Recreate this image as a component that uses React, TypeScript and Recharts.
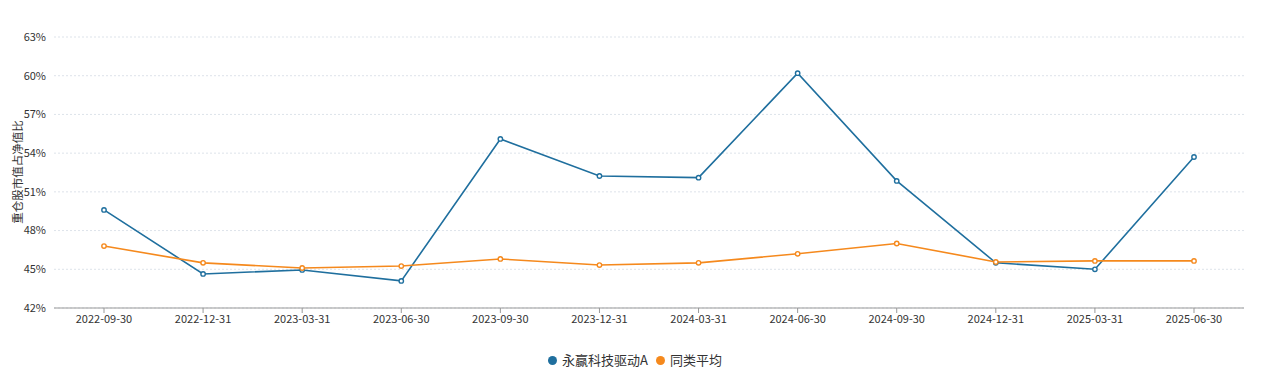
import React from 'react';
import { LineChart, Line, XAxis, YAxis, CartesianGrid, Legend } from 'recharts';

const categories = [
  '2022-09-30', '2022-12-31', '2023-03-31', '2023-06-30', '2023-09-30', '2023-12-31',
  '2024-03-31', '2024-06-30', '2024-09-30', '2024-12-31', '2025-03-31', '2025-06-30',
];
const fundValues = [49.6, 44.64, 44.95, 44.1, 55.1, 52.23, 52.1, 60.2, 51.85, 45.5, 45.0, 53.7];
const peerValues = [46.8, 45.5, 45.1, 45.25, 45.8, 45.33, 45.5, 46.2, 47.0, 45.57, 45.65, 45.65];
const yTicks = [42, 45, 48, 51, 54, 57, 60, 63];

const fundName = '永赢科技驱动A';
const peerName = '同类平均';
const fundColor = '#1f6f9e';
const peerColor = '#f5891d';
const font = '"Noto Sans CJK SC", "Noto Sans", sans-serif';

const data = categories.map((date, i) => ({
  date,
  fund: fundValues[i],
  peer: peerValues[i],
}));

const CustomLegend = () => (
  <div style={{ display: 'flex', justifyContent: 'center', paddingTop: 14, paddingLeft: 26, fontFamily: font, fontSize: 13, color: '#333', lineHeight: '16px' }}>
    {[{ name: fundName, color: fundColor }, { name: peerName, color: peerColor }].map((item) => (
      <div key={item.name} style={{ display: 'flex', alignItems: 'center', margin: '0 4px' }}>
        <span style={{ width: 9, height: 9, borderRadius: '50%', backgroundColor: item.color, marginRight: 5, display: 'inline-block' }} />
        <span>{item.name}</span>
      </div>
    ))}
  </div>
);

const YLabel = () => (
  <text
    x={17}
    y={172}
    transform="rotate(-90 17 172)"
    textAnchor="middle"
    dominantBaseline="central"
    fontSize={11.5}
    fontFamily={font}
    fill="#333"
  >
    重仓股市值占净值比
  </text>
);

export default function App() {
  return (
    <div style={{ position: 'absolute', left: 0, top: 0, background: '#fff' }}>
      <LineChart width={1270} height={372} data={data} margin={{ top: 37, right: 26, left: 0, bottom: 0 }}>
        <CartesianGrid vertical={false} stroke="#dde3ea" strokeDasharray="2 2" />
        <XAxis
          dataKey="date"
          height={30}
          interval={0}
          padding={{ left: 50, right: 50 }}
          stroke="#999"
          tickSize={5}
          tick={{ fill: '#333', fontSize: 11, fontFamily: font }}
        />
        <YAxis
          width={54}
          domain={[42, 63]}
          ticks={yTicks}
          axisLine={false}
          tickLine={false}
          tickFormatter={(v) => `${v}%`}
          tick={{ fill: '#333', fontSize: 11, fontFamily: font }}
          label={<YLabel />}
        />
        <Legend verticalAlign="bottom" height={34} content={<CustomLegend />} />
        <Line
          type="linear"
          dataKey="fund"
          name={fundName}
          stroke={fundColor}
          strokeWidth={1.6}
          dot={{ r: 2.2, fill: '#fff', stroke: fundColor, strokeWidth: 1.4 }}
          isAnimationActive={false}
        />
        <Line
          type="linear"
          dataKey="peer"
          name={peerName}
          stroke={peerColor}
          strokeWidth={1.6}
          dot={{ r: 2.2, fill: '#fff', stroke: peerColor, strokeWidth: 1.4 }}
          isAnimationActive={false}
        />
      </LineChart>
    </div>
  );
}
